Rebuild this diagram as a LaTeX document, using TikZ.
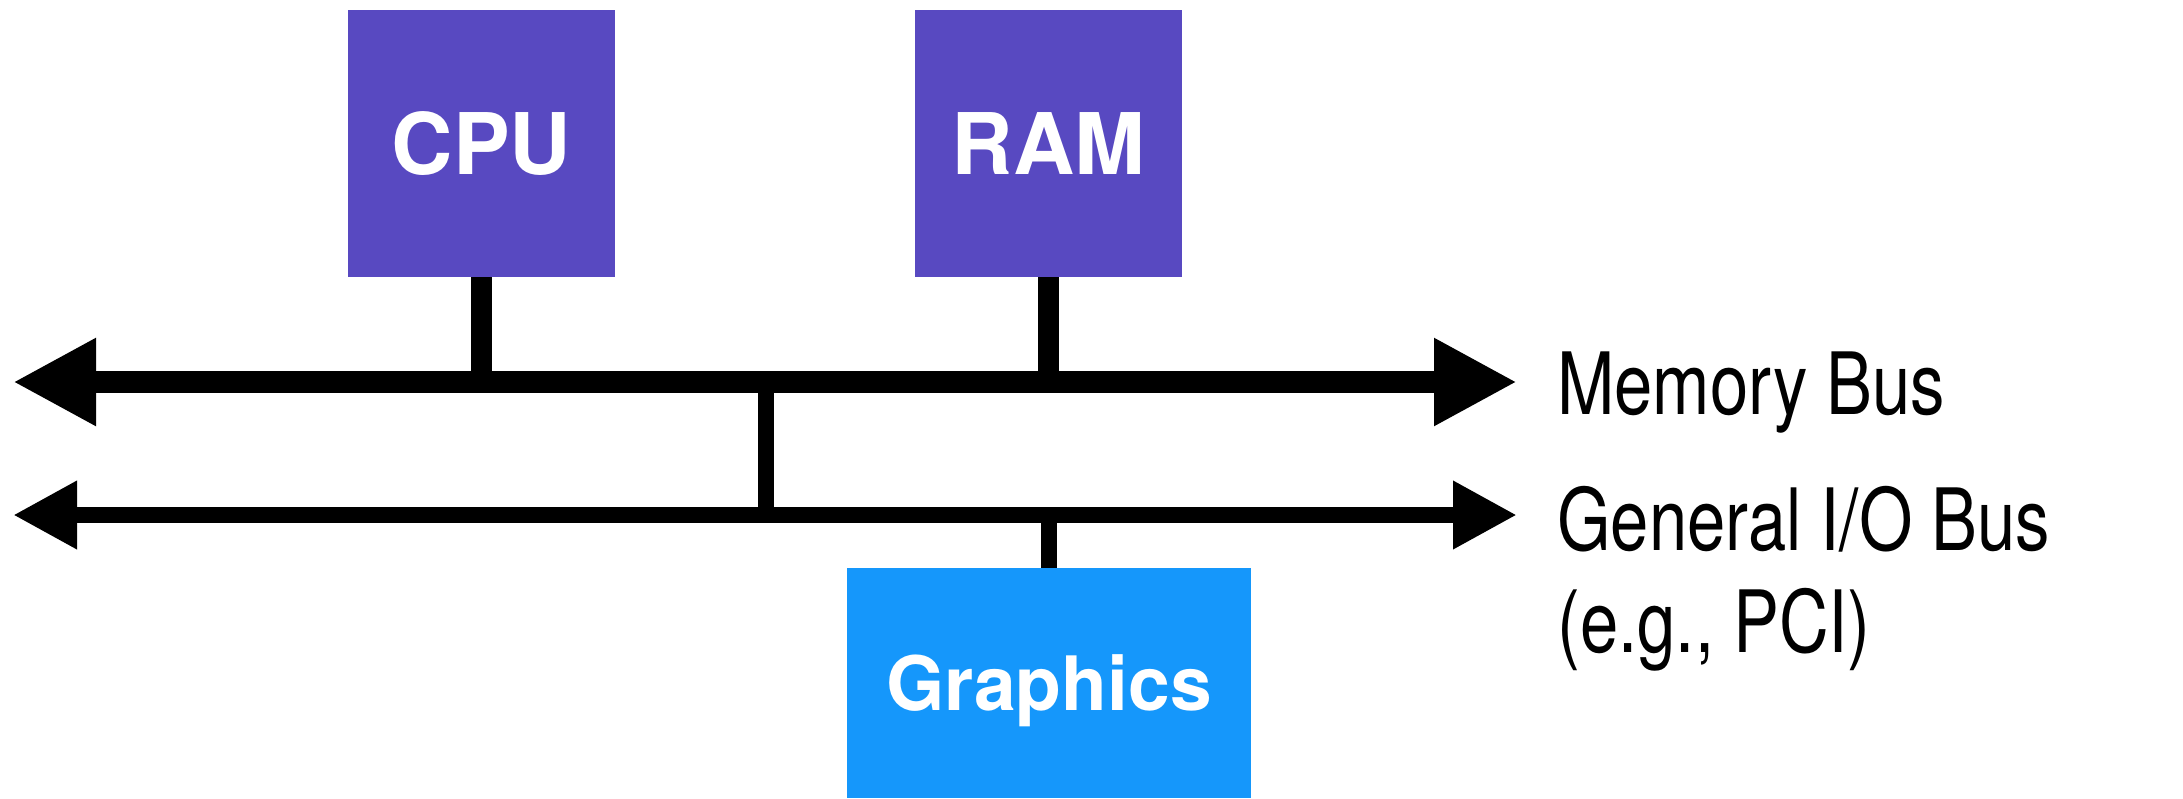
\documentclass[tikz,border=0pt]{standalone}
\usepackage{fontspec}
\setmainfont{TeX Gyre Heros}
\newfontfamily\labelfont[FakeStretch=0.8]{TeX Gyre Heros}
\usetikzlibrary{arrows.meta}
\definecolor{unitpurple}{RGB}{88,73,193}
\definecolor{gfxblue}{RGB}{21,151,251}
\tikzset{
  unit/.style={draw=none, fill=unitpurple, text=white, inner sep=0pt,
    minimum width=133.5pt, minimum height=133.5pt,
    font=\fontsize{42.5}{42.5}\selectfont\bfseries, text height=30.5pt, text depth=0pt},
  gfxbox/.style={draw=none, fill=gfxblue, text=white, inner sep=0pt,
    minimum width=202pt, minimum height=115pt,
    font=\fontsize{37.5}{37.5}\selectfont\bfseries, text height=27pt, text depth=0pt},
  membus/.style={line width=11pt, {Triangle[length=41.5pt,width=41pt]}-{Triangle[length=41.5pt,width=41pt]}},
  iobus/.style={line width=8pt, {Triangle[length=32pt,width=32pt]}-{Triangle[length=32pt,width=32pt]}},
  stem/.style={line width=10.5pt},
  thinstem/.style={line width=8pt},
  buslabel/.style={anchor=base west, inner sep=0pt, align=left,
    font=\labelfont\fontsize{43}{51}\selectfont}
}
\begin{document}
\begin{tikzpicture}[x=0.5pt, y=-0.5pt]
  \useasboundingbox (0,0) rectangle (2183,798);

  % devices
  \node[unit] (cpu) at (481.5,143.5) {CPU};
  \node[unit] (ram) at (1048.5,143.5) {RAM};
  \node[gfxbox] (gfx) at (1049,683) {Graphics};

  % bus end points
  \coordinate (mbL) at (13,382);
  \coordinate (mbR) at (1517,382);
  \coordinate (ioL) at (13,515);
  \coordinate (ioR) at (1517,515);
  \coordinate (brTop) at (765.5,382);
  \coordinate (brBot) at (765.5,515);

  % taps onto the buses
  \draw[stem] (cpu.south) -- (cpu.south |- mbL);
  \draw[stem] (ram.south) -- (ram.south |- mbL);
  \draw[thinstem] (brTop) -- (brBot);
  \draw[thinstem] (gfx.north) -- (gfx.north |- ioL);

  % the two buses
  \draw[membus] (mbL) -- (mbR);
  \draw[iobus] (ioL) -- (ioR);

  % bus names (base anchor of a two-line node sits on its last line)
  \node[buslabel] (memlabel) at (1557,414) {Memory Bus};
  \node[buslabel] (iolabel) at (1557,652) {General I/O Bus\\(e.g., PCI)};
\end{tikzpicture}
\end{document}
